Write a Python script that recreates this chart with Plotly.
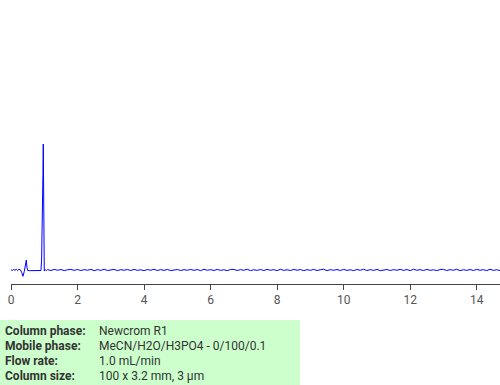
import plotly.graph_objects as go

# Chromatogram trace (time in min, signal in arbitrary units)
time_pre = [0.0, 0.04, 0.08, 0.12, 0.16, 0.20, 0.24, 0.28, 0.32, 0.36, 0.40, 0.43, 0.46, 0.48, 0.50,
            0.55, 0.60, 0.65, 0.70, 0.75, 0.80, 0.85, 0.90, 0.92, 0.94, 0.96, 0.97, 0.98, 0.99, 1.00, 1.03, 1.06]
signal_pre = [0.2, -0.3, 0.4, -0.2, 0.5, -0.4, 0.6, 0.2, -1.8, -5.0, -1.0, 3.5, 7.9, 2.0, -0.4,
              -0.5, -0.5, -0.5, -0.5, -0.5, -0.5, -0.5, -0.4, 8.0, 30.0, 75.0, 100.0, 60.0, 10.0, -0.8, 0.2, -0.4]

time_base_start = 1.1
time_base_step = 0.1
noise = [0.3, -0.4, 0.5, -0.2, 0.4, -0.5, 0.2, 0.5, -0.3, 0.4, -0.4, 0.3, -0.2, 0.5, -0.5, 0.3,
         -0.3, 0.6, -0.4, 0.2, 0.5, -0.5, 0.3, -0.2, 0.4, -0.4, 0.5, -0.3, 0.2, -0.5, 0.4, -0.2,
         0.6, -0.4, 0.3, -0.3, 0.5, -0.5, 0.2, 0.4, -0.4, 0.3, -0.2, 0.5, -0.3, 0.4, -0.5, 0.6,
         -0.2, 0.3, -0.4, 0.5, -0.3, 0.2, -0.5, 0.4, 0.5, -0.4, 0.3, -0.2, 0.6, -0.5, 0.2, -0.3,
         0.4, -0.4, 0.5, -0.2, 0.3, -0.5, 0.6, -0.3, 0.2, -0.4, 0.5, -0.2, 0.4, -0.5, 0.3, -0.3,
         0.5, -0.4, 0.2, 0.6, -0.5, 0.3, -0.2, 0.4, -0.4, 0.5, -0.3, 0.2, -0.5, 0.4, -0.2, 0.6,
         -0.4, 0.3, -0.3, 0.5, -0.5, 0.2, 0.4, -0.4, 0.3, -0.2, 0.5, -0.3, 0.4, -0.5, 0.6, -0.2,
         0.3, -0.4, 0.5, -0.3, 0.2, -0.5, 0.4, 0.5, -0.4, 0.3, -0.2, 0.6, -0.5, 0.2, -0.3, 0.4,
         -0.4, 0.5, -0.2, 0.3, -0.5, 0.6, -0.3, 0.2, -0.4]

x_ticks = [0, 2, 4, 6, 8, 10, 12, 14]

info_labels = ["Column phase:", "Mobile phase:", "Flow rate:", "Column size:"]
info_values = ["Newcrom R1", "MeCN/H2O/H3PO4 - 0/100/0.1", "1.0 mL/min", "100 x 3.2 mm, 3 µm"]

time_base = [round(time_base_start + i * time_base_step, 2) for i in range(len(noise))]
times = time_pre + time_base
signal = signal_pre + noise

W, H = 500, 385
ML, MR, MT, MB = 11, 0, 10, 101
PW, PH = W - ML - MR, H - MT - MB


def px(x):
    return (x - ML) / PW


def py(y):
    return (H - MB - y) / PH


fig = go.Figure()
fig.add_trace(go.Scatter(x=times, y=signal, mode="lines",
                         line=dict(color="#0000ff", width=1), hoverinfo="skip"))

fig.add_shape(type="rect", xref="paper", yref="paper",
              x0=px(0), x1=px(300), y0=py(320), y1=py(385),
              fillcolor="#ccffcc", line=dict(width=0), layer="below")

row_y = [331, 346, 361, 376]
for lab, val, yy in zip(info_labels, info_values, row_y):
    fig.add_annotation(text="<b>" + lab + "</b>", xref="paper", yref="paper",
                       x=px(3), y=py(yy), xanchor="left", yanchor="middle",
                       showarrow=False, font=dict(family="Roboto", size=12, color="#333333"))
    fig.add_annotation(text=val, xref="paper", yref="paper",
                       x=px(97), y=py(yy), xanchor="left", yanchor="middle",
                       showarrow=False, font=dict(family="Roboto", size=12, color="#333333"))

fig.update_layout(
    width=W, height=H,
    margin=dict(l=ML, r=MR, t=MT, b=MB, pad=0),
    paper_bgcolor="white", plot_bgcolor="white",
    showlegend=False,
    xaxis=dict(range=[0, 14.7], showgrid=False, zeroline=False, showline=True,
               linecolor="#444444", linewidth=1, ticks="outside", ticklen=5,
               tickcolor="#444444", tickvals=x_ticks,
               tickfont=dict(family="Roboto", size=12, color="#555555")),
    yaxis=dict(range=[-11.1, 206.4], visible=False, showgrid=False, zeroline=False),
)

fig.write_html("out.html")
